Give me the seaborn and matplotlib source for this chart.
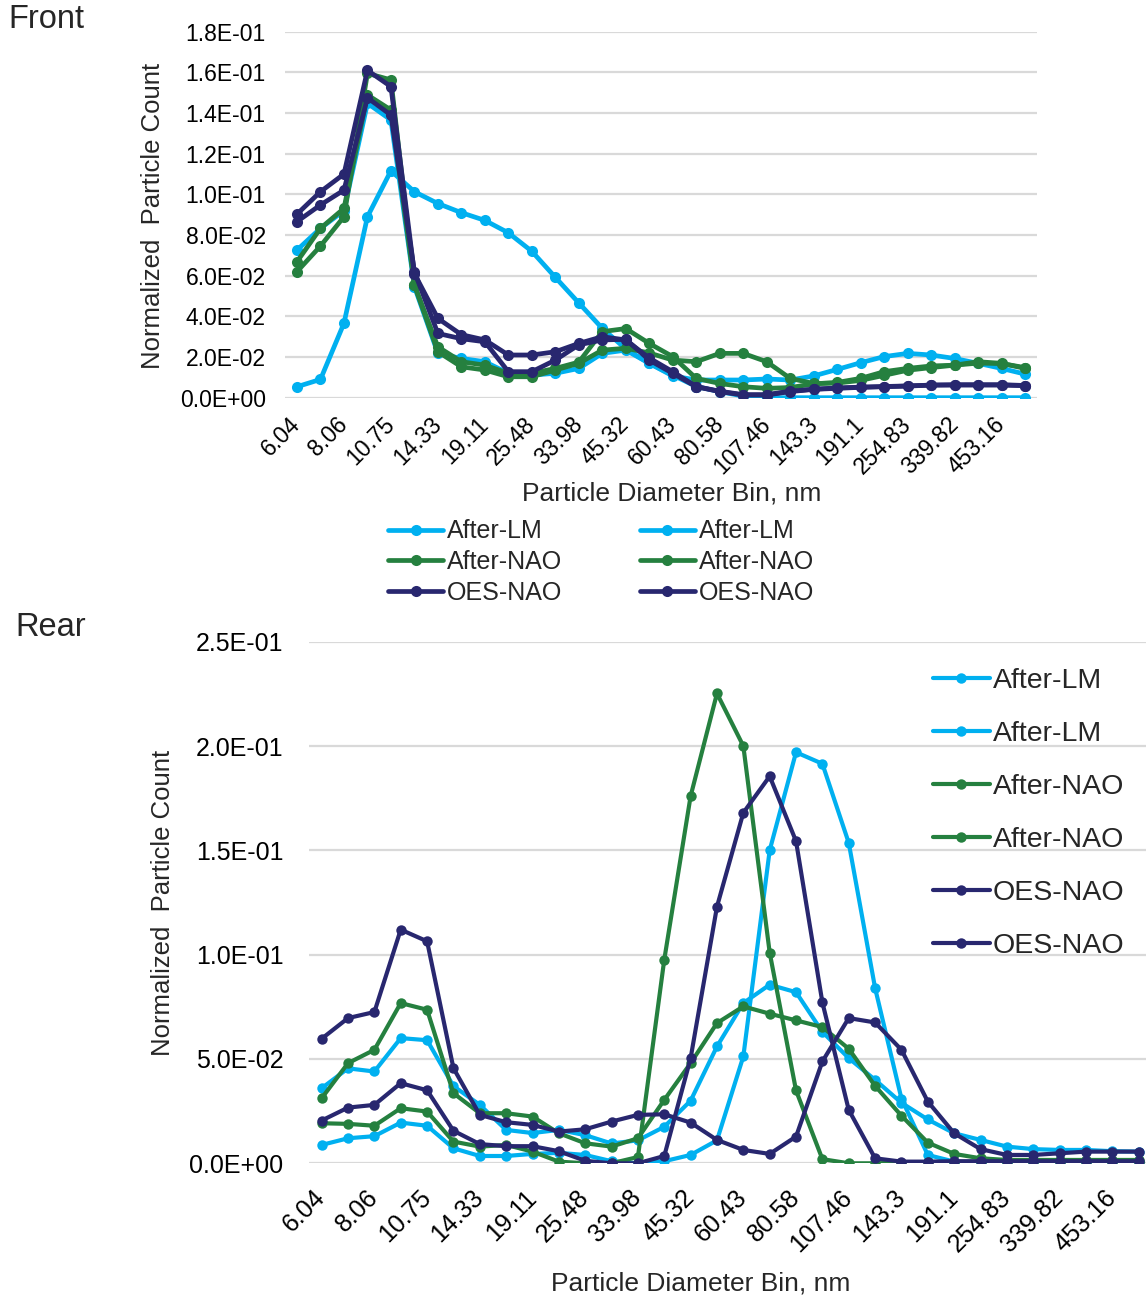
import numpy as np
import pandas as pd
import matplotlib
matplotlib.use("Agg")
import matplotlib.pyplot as plt
from matplotlib.ticker import FuncFormatter, FixedLocator
import seaborn as sns

# ---------------- data ----------------
bins = ["6.04", "6.98", "8.06", "9.31", "10.75", "12.41", "14.33", "16.55",
        "19.11", "22.07", "25.48", "29.43", "33.98", "39.24", "45.32", "52.33",
        "60.43", "69.78", "80.58", "93.06", "107.46", "124.1", "143.3", "165.5",
        "191.1", "220.7", "254.83", "294.27", "339.82", "392.42", "453.16", "523.3"]

series_names = ["After-LM", "After-LM", "After-NAO", "After-NAO", "OES-NAO", "OES-NAO"]

front_lm1 = [0.0054, 0.0090, 0.0366, 0.0890, 0.1116, 0.1013, 0.0955, 0.0910, 0.0872, 0.0811,
             0.0720, 0.0592, 0.0466, 0.0341, 0.0240, 0.0169, 0.0107, 0.0087, 0.0087, 0.0087,
             0.0092, 0.0087, 0.0107, 0.0139, 0.0172, 0.0202, 0.0218, 0.0210, 0.0193, 0.0169,
             0.0144, 0.0116]
front_lm2 = [0.0726, 0.0833, 0.0920, 0.1448, 0.1366, 0.0546, 0.0218, 0.0193, 0.0177, 0.0120,
             0.0111, 0.0120, 0.0144, 0.0218, 0.0234, 0.0169, 0.0111, 0.0055, 0.0030, 0.0008,
             0.0, 0.0, 0.0, 0.0, 0.0, 0.0, 0.0, 0.0, 0.0, 0.0, 0.0, 0.0]
front_nao1 = [0.0669, 0.0833, 0.0931, 0.1489, 0.1415, 0.0554, 0.0226, 0.0152, 0.0136, 0.0103,
              0.0103, 0.0136, 0.0169, 0.0234, 0.0243, 0.0220, 0.0185, 0.0177, 0.0218, 0.0218,
              0.0177, 0.0095, 0.0070, 0.0072, 0.0085, 0.0110, 0.0135, 0.0148, 0.0160, 0.0170,
              0.0168, 0.0148]
front_nao2 = [0.0620, 0.0746, 0.0890, 0.1595, 0.1563, 0.0554, 0.0250, 0.0177, 0.0160, 0.0120,
              0.0120, 0.0144, 0.0175, 0.0325, 0.0340, 0.0267, 0.0202, 0.0095, 0.0070, 0.0054,
              0.0046, 0.0050, 0.0068, 0.0075, 0.0095, 0.0128, 0.0144, 0.0156, 0.0160, 0.0177,
              0.0169, 0.0144]
front_oes1 = [0.0866, 0.0948, 0.1021, 0.1475, 0.1390, 0.0620, 0.0316, 0.0290, 0.0275, 0.0128,
              0.0128, 0.0185, 0.0260, 0.0284, 0.0287, 0.0185, 0.0120, 0.0054, 0.0030, 0.0013,
              0.0013, 0.0030, 0.0041, 0.0046, 0.0051, 0.0054, 0.0057, 0.0062, 0.0062, 0.0062,
              0.0062, 0.0059]
front_oes2 = [0.0903, 0.1013, 0.1100, 0.1610, 0.1530, 0.0610, 0.0390, 0.0310, 0.0284, 0.0210,
              0.0210, 0.0226, 0.0267, 0.0300, 0.0284, 0.0195, 0.0128, 0.0055, 0.0032, 0.0015,
              0.0015, 0.0032, 0.0042, 0.0048, 0.0052, 0.0055, 0.0058, 0.0062, 0.0064, 0.0064,
              0.0064, 0.0060]

rear_lm1 = [0.0360, 0.0455, 0.0440, 0.0600, 0.0590, 0.0370, 0.0280, 0.0160, 0.0145, 0.0160,
            0.0135, 0.0095, 0.0110, 0.0175, 0.0300, 0.0560, 0.0768, 0.0856, 0.0820, 0.0630,
            0.0504, 0.0400, 0.0290, 0.0210, 0.0144, 0.0112, 0.0080, 0.0068, 0.0064, 0.0064,
            0.0058, 0.0056]
rear_lm2 = [0.0088, 0.0120, 0.0130, 0.0195, 0.0180, 0.0072, 0.0035, 0.0035, 0.0045, 0.0050,
            0.0040, 0.0010, 0.0000, 0.0010, 0.0040, 0.0110, 0.0512, 0.1500, 0.1970, 0.1915,
            0.1536, 0.0840, 0.0310, 0.0040, 0.0008, 0.0005, 0.0005, 0.0005, 0.0005, 0.0005,
            0.0005, 0.0005]
rear_nao1 = [0.0312, 0.0480, 0.0544, 0.0768, 0.0736, 0.0336, 0.0240, 0.0240, 0.0224, 0.0144,
             0.0096, 0.0080, 0.0120, 0.0304, 0.0480, 0.0672, 0.0752, 0.0717, 0.0685, 0.0653,
             0.0549, 0.0371, 0.0228, 0.0099, 0.0045, 0.0024, 0.0016, 0.0016, 0.0016, 0.0016,
             0.0016, 0.0016]
rear_nao2 = [0.0192, 0.0189, 0.0180, 0.0264, 0.0248, 0.0104, 0.0080, 0.0088, 0.0056, 0.0008,
             0.0000, 0.0000, 0.0030, 0.0976, 0.1760, 0.2252, 0.2000, 0.1010, 0.0349, 0.0020,
             0.0000, 0.0000, 0.0003, 0.0005, 0.0005, 0.0005, 0.0005, 0.0005, 0.0005, 0.0005,
             0.0005, 0.0005]
rear_oes1 = [0.0597, 0.0696, 0.0725, 0.1120, 0.1064, 0.0456, 0.0232, 0.0197, 0.0184, 0.0152,
             0.0163, 0.0200, 0.0232, 0.0235, 0.0195, 0.0112, 0.0064, 0.0045, 0.0128, 0.0488,
             0.0696, 0.0675, 0.0544, 0.0296, 0.0144, 0.0068, 0.0040, 0.0040, 0.0048, 0.0056,
             0.0056, 0.0056]
rear_oes2 = [0.0205, 0.0267, 0.0280, 0.0384, 0.0350, 0.0156, 0.0092, 0.0082, 0.0082, 0.0058,
             0.0012, 0.0000, 0.0000, 0.0035, 0.0504, 0.1230, 0.1680, 0.1855, 0.1544, 0.0771,
             0.0256, 0.0024, 0.0008, 0.0008, 0.0010, 0.0010, 0.0010, 0.0010, 0.0010, 0.0010,
             0.0010, 0.0010]

front_series = [front_lm1, front_lm2, front_nao1, front_nao2, front_oes1, front_oes2]
rear_series = [rear_lm1, rear_lm2, rear_nao1, rear_nao2, rear_oes1, rear_oes2]

# ---------------- style ----------------
C_LB = "#00B0F0"
C_GR = "#25803F"
C_NV = "#28276F"
colors = [C_LB, C_LB, C_GR, C_GR, C_NV, C_NV]
GRID = "#D9D9D9"

sns.set_style("white")
plt.rcParams["font.family"] = ["Liberation Sans", "DejaVu Sans"]

W, H = 1146, 1299
fig = plt.figure(figsize=(W / 100, H / 100), dpi=100)


def px_axes(left, top, right, bottom):
    return fig.add_axes([left / W, 1 - bottom / H, (right - left) / W, (bottom - top) / H])


def style_axes(ax, ymax, ystep, tick_fs, ypad, xpad):
    ax.set_xlim(-0.5, len(bins) - 0.5)
    ax.set_ylim(0, ymax)
    ax.yaxis.set_major_locator(FixedLocator(np.round(np.arange(0, ymax + 1e-9, ystep), 4)))
    ax.yaxis.set_major_formatter(FuncFormatter(lambda v, p: f"{v:.1E}"))
    ax.set_xticks(range(0, len(bins), 2))
    ax.set_xticklabels(bins[::2], rotation=45, ha="right", va="center",
                       rotation_mode="anchor", fontsize=tick_fs)
    ax.tick_params(axis="y", labelsize=tick_fs, length=0, pad=ypad, colors="#000000")
    ax.tick_params(axis="x", length=0, pad=xpad, colors="#000000")
    for s in ax.spines.values():
        s.set_visible(False)
    ax.yaxis.grid(True, color=GRID, linewidth=1.6)
    ax.xaxis.grid(False)
    ax.set_axisbelow(True)
    ax.set_xlabel("")
    ax.set_ylabel("")


x_idx = np.arange(len(bins))

# ---------------- Front ----------------
ax1 = px_axes(285.25, 31.7, 1036.75, 397.7)
front_lines = []
for vals, name, col in zip(front_series, series_names, colors):
    sns.lineplot(x=x_idx, y=vals, ax=ax1, color=col, linewidth=3.4, marker="o",
                 markersize=8, markeredgewidth=0, label=name, legend=False)
    front_lines.append(ax1.lines[-1])
style_axes(ax1, 0.18, 0.02, 16.5, 14, 17)

order = [0, 2, 4, 1, 3, 5]
fig.legend([front_lines[i] for i in order], [series_names[i] for i in order],
           ncol=2, loc="center", bbox_to_anchor=(601 / W, 1 - 562 / H), frameon=False,
           fontsize=18, handlelength=2.2, handletextpad=0.15, columnspacing=3.1,
           labelspacing=0.27, numpoints=1, borderpad=0, borderaxespad=0)

fig.text(672 / W, 1 - 494 / H, "Particle Diameter Bin, nm", ha="center", va="center",
         fontsize=19)
fig.text(153 / W, 1 - 216 / H, "Normalized  Particle Count", ha="center", va="center",
         rotation=90, fontsize=18.5)
fig.text(8 / W, 1 - 19 / H, "Front", ha="left", va="center", fontsize=23.5)

# ---------------- Rear ----------------
ax2 = px_axes(308.5, 641.7, 1151.8, 1163.3)
rear_lines = []
for vals, name, col in zip(rear_series, series_names, colors):
    sns.lineplot(x=x_idx, y=vals, ax=ax2, color=col, linewidth=3.0, marker="o",
                 markersize=7.5, markeredgewidth=0, label=name, legend=False)
    rear_lines.append(ax2.lines[-1])
style_axes(ax2, 0.25, 0.05, 18, 18, 22)

fig.legend(rear_lines, series_names, ncol=1, loc="upper left",
           bbox_to_anchor=(933 / W, 1 - 668 / H), frameon=False, fontsize=20.5,
           handlelength=2.0, handletextpad=0.1, labelspacing=0.95, numpoints=1,
           borderpad=0, borderaxespad=0)

fig.text(701 / W, 1 - 1283 / H, "Particle Diameter Bin, nm", ha="center", va="center",
         fontsize=19)
fig.text(163 / W, 1 - 903 / H, "Normalized  Particle Count", ha="center", va="center",
         rotation=90, fontsize=18.5)
fig.text(15 / W, 1 - 627 / H, "Rear", ha="left", va="center", fontsize=23.5)

fig.savefig("out.png", dpi=100)
